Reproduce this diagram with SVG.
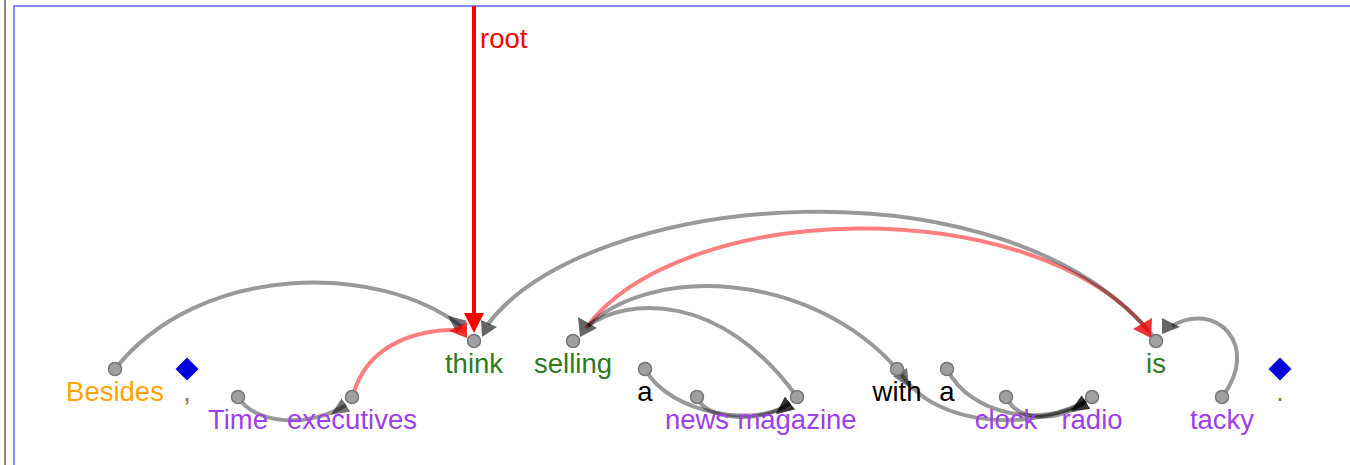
<svg xmlns="http://www.w3.org/2000/svg" width="1350" height="465" viewBox="0 0 1350 465">
  <style>
    text { font-family: "Liberation Sans", Arial, sans-serif; font-size: 27.5px; text-anchor: middle; }
    .frame { fill: none; stroke: #8a8aff; stroke-width: 2; }
    .edge { fill: none; stroke: #000; stroke-opacity: 0.4; stroke-width: 4; }
    .edge-hi { fill: none; stroke: #ff0000; stroke-opacity: 0.5; stroke-width: 4; }
    .hd { fill: #000; fill-opacity: 0.6; }
    .hd-hi { fill: #e81010; fill-opacity: 0.85; }
    .tok { fill: #a0a0a0; stroke: #777; stroke-width: 1.5; }
    .punct { fill: #0000dd; }
    .adp { fill: #ffa500; }
    .verb { fill: #2d7a1f; }
    .noun { fill: #9c40e8; }
    .func { fill: #000; }
    .pt { fill: #9a7a30; }
    .root-label { fill: #ff0000; text-anchor: start; }
  </style>
  <defs>
    <marker id="head" markerUnits="userSpaceOnUse" markerWidth="20" markerHeight="18" refX="0" refY="8" orient="auto">
      <path d="M0,0 L18,8 L0,16 z" fill="#000" fill-opacity="0.55"/>
    </marker>
  </defs>

  <rect width="1350" height="465" fill="#fff"/>
  <line x1="5" y1="0" x2="5" y2="465" stroke="#888" stroke-width="2"/>
  <path class="frame" d="M14,470 V6 H1360"/>

  <g id="connectors">
    <!-- highlighted relations -->
    <path class="edge-hi" d="M466,330 C420,328 368,342 353,395"/>
    <path class="edge-hi" d="M1148,330 C1030,190 680,200 586,328"/>
    <!-- regular relations -->
    <path class="edge" d="M462,327 C380,262 200,262 115,369" marker-start="url(#head)"/>
    <path class="edge" d="M488,324 C590,190 1005,155 1153,336"/>
    <path class="edge" d="M346,405 C310,428 255,425 238,397" marker-start="url(#head)"/>
    <path class="edge" d="M588,326 C650,265 810,270 897,369"/>
    <path class="edge" d="M588,326 C625,298 720,290 797,397"/>
    <path class="edge" d="M790,403 C760,428 670,415 645,369" marker-start="url(#head)"/>
    <path class="edge" d="M790,403 C760,425 705,420 697,397" marker-start="url(#head)"/>
    <path class="edge" d="M900,372 C935,430 1040,432 1092,397" marker-start="url(#head)"/>
    <path class="edge" d="M1086,402 C1040,428 970,415 947,369" marker-start="url(#head)"/>
    <path class="edge" d="M1086,402 C1060,420 1020,425 1006,397" marker-start="url(#head)"/>
    <path class="edge" d="M1172,326 C1215,300 1262,345 1222,397"/>
    <!-- heads at the governing tokens -->
    <polygon class="hd" points="481,320 497,327 482,337"/>
    <polygon class="hd" points="578,317 597,328 580,337"/>
    <polygon class="hd" points="1162,318 1180,327 1162,334"/>
    <polygon class="hd-hi" points="467,322 467,338 449,331"/>
    <polygon class="hd-hi" points="1152,318 1151,338 1133,329"/>
    <!-- root relation -->
    <line x1="474" y1="6" x2="474" y2="316" stroke="#ff0000" stroke-width="4"/>
    <polygon points="464,313 484,313 474,333" fill="#ff0000"/>
    <text class="root-label" x="480" y="48">root</text>
  </g>

  <g id="w1"><circle class="tok" cx="115" cy="369" r="6.5"/><text class="adp" x="115" y="401">Besides</text></g>
  <g id="w2"><polygon class="punct" points="187,357.5 198.5,369 187,380.5 175.5,369"/><text class="pt" x="187" y="401">,</text></g>
  <g id="w3"><circle class="tok" cx="238" cy="397" r="6.5"/><text class="noun" x="238" y="429">Time</text></g>
  <g id="w4"><circle class="tok" cx="352" cy="397" r="6.5"/><text class="noun" x="352" y="429">executives</text></g>
  <g id="w5"><circle class="tok" cx="474" cy="341" r="6.5"/><text class="verb" x="474" y="373">think</text></g>
  <g id="w6"><circle class="tok" cx="573" cy="341" r="6.5"/><text class="verb" x="573" y="373">selling</text></g>
  <g id="w7"><circle class="tok" cx="645" cy="369" r="6.5"/><text class="func" x="645" y="401">a</text></g>
  <g id="w8"><circle class="tok" cx="697" cy="397" r="6.5"/><text class="noun" x="697" y="429">news</text></g>
  <g id="w9"><circle class="tok" cx="797" cy="397" r="6.5"/><text class="noun" x="797" y="429">magazine</text></g>
  <g id="w10"><circle class="tok" cx="897" cy="369" r="6.5"/><text class="func" x="897" y="401">with</text></g>
  <g id="w11"><circle class="tok" cx="947" cy="369" r="6.5"/><text class="func" x="947" y="401">a</text></g>
  <g id="w12"><circle class="tok" cx="1006" cy="397" r="6.5"/><text class="noun" x="1006" y="429">clock</text></g>
  <g id="w13"><circle class="tok" cx="1092" cy="397" r="6.5"/><text class="noun" x="1092" y="429">radio</text></g>
  <g id="w14"><circle class="tok" cx="1156" cy="341" r="6.5"/><text class="verb" x="1156" y="373">is</text></g>
  <g id="w15"><circle class="tok" cx="1222" cy="397" r="6.5"/><text class="noun" x="1222" y="429">tacky</text></g>
  <g id="w16"><polygon class="punct" points="1280,357.5 1291.5,369 1280,380.5 1268.5,369"/><text class="pt" x="1280" y="401">.</text></g>
</svg>
